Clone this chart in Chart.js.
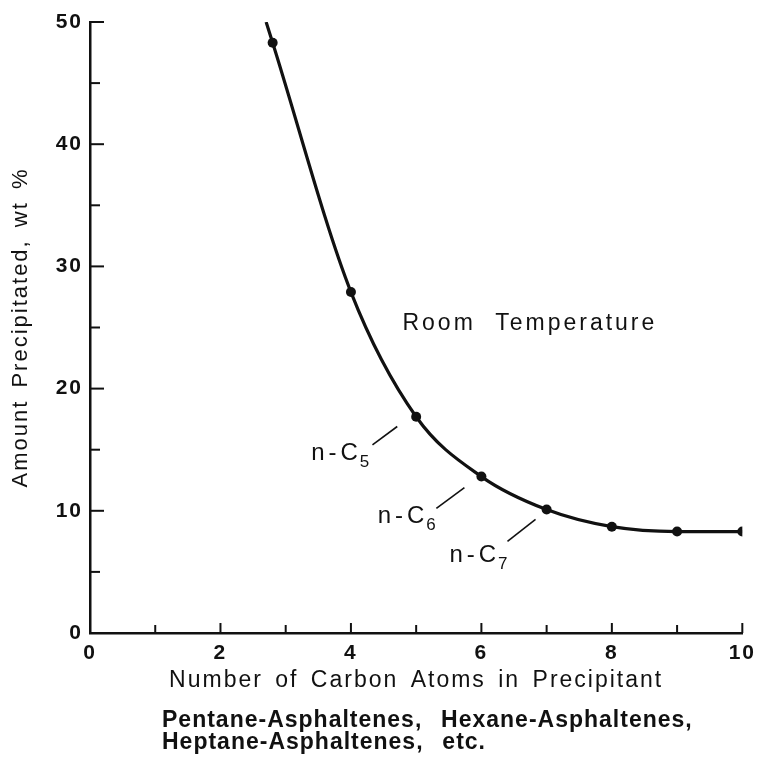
<!DOCTYPE html>
<html><head><meta charset="utf-8">
<script src="https://cdn.jsdelivr.net/npm/chart.js@4.4.1/dist/chart.umd.min.js"></script>
<style>html,body{margin:0;padding:0;background:#fff;} #wrap{width:762px;height:758px;position:relative}</style>
</head><body><div id="wrap"><canvas id="c" width="762" height="758"></canvas></div>
<script>
// ---- data ----
const carbonAtoms = [2.8, 4, 5, 6, 7, 8, 9, 10];
const amountPrecipitated = [48.3, 27.9, 17.7, 12.8, 10.1, 8.7, 8.3, 8.3];
const curveStartX = 2.7;   // where the fitted curve leaves the top of the frame
const curveStartY = 50;
const xTickValues = [0, 1, 2, 3, 4, 5, 6, 7, 8, 9, 10];
const yTickValues = [0, 5, 10, 15, 20, 25, 30, 35, 40, 45, 50];
const xTitle = 'Number of Carbon Atoms in Precipitant';
const yTitle = 'Amount Precipitated, wt %';
const noteText = 'Room Temperature';
const noteX = 4.79, noteY = 24.8;
const solventPrefix = ['n-C', 'n-C', 'n-C'];
const solventSub = ['5', '6', '7'];
const solventLabelX = [3.39, 4.41, 5.51];
const solventLabelY = [14.16, 9.0, 5.8];
const leaderFromX = [4.33, 5.31, 6.40];
const leaderFromY = [15.4, 10.2, 7.5];
const leaderToX = [4.71, 5.74, 6.83];
const leaderToY = [16.9, 11.9, 9.3];
const captionLines = ['Pentane-Asphaltenes,  Hexane-Asphaltenes,', 'Heptane-Asphaltenes,  etc.'];

const FONT = '"Liberation Sans", Arial, Helvetica, sans-serif';
const INK = '#111';

const points = [{x: curveStartX, y: curveStartY}].concat(
  carbonAtoms.map((x, i) => ({x: x, y: amountPrecipitated[i]})));

const textStyle = {
  id: 'textStyle',
  beforeDraw(chart) {
    chart.ctx.letterSpacing = '2px';
    chart.ctx.wordSpacing = '4px';
  }
};

const extras = {
  id: 'extras',
  afterDraw(chart) {
    const ctx = chart.ctx;
    const xs = chart.scales.x, ys = chart.scales.y;
    const ca = chart.chartArea;
    ctx.save();
    ctx.strokeStyle = INK;
    ctx.fillStyle = INK;
    // inward tick marks
    ctx.lineWidth = 2;
    xTickValues.forEach(v => {
      if (v === 0) return;
      const px = xs.getPixelForValue(v);
      ctx.beginPath();
      ctx.moveTo(px, ca.bottom);
      ctx.lineTo(px, ca.bottom - (v % 2 === 0 ? 10 : 8));
      ctx.stroke();
    });
    yTickValues.forEach(v => {
      if (v === 0) return;
      const py = ys.getPixelForValue(v);
      ctx.beginPath();
      ctx.moveTo(ca.left, py);
      ctx.lineTo(ca.left + (v % 10 === 0 ? 14 : 10), py);
      ctx.stroke();
    });
    // Room Temperature note
    ctx.letterSpacing = '3px';
    ctx.wordSpacing = '10px';
    ctx.font = '23px ' + FONT;
    ctx.textBaseline = 'alphabetic';
    ctx.textAlign = 'left';
    ctx.fillText(noteText, xs.getPixelForValue(noteX), ys.getPixelForValue(noteY));
    // solvent labels with leader lines
    ctx.lineWidth = 1.6;
    solventPrefix.forEach((p, i) => {
      const lx = xs.getPixelForValue(solventLabelX[i]);
      const ly = ys.getPixelForValue(solventLabelY[i]);
      ctx.letterSpacing = '4px';
      ctx.font = '24px ' + FONT;
      ctx.fillText(p, lx, ly);
      const w = ctx.measureText(p).width;
      ctx.letterSpacing = '0px';
      ctx.font = '17px ' + FONT;
      ctx.fillText(solventSub[i], lx + w - 2, ly + 7);
      ctx.beginPath();
      ctx.moveTo(xs.getPixelForValue(leaderFromX[i]), ys.getPixelForValue(leaderFromY[i]));
      ctx.lineTo(xs.getPixelForValue(leaderToX[i]), ys.getPixelForValue(leaderToY[i]));
      ctx.stroke();
    });
    // caption under the axis title
    ctx.letterSpacing = '1px';
    ctx.wordSpacing = '2px';
    ctx.font = 'bold 23px ' + FONT;
    ctx.fillText(captionLines[0], 162, 727);
    ctx.fillText(captionLines[1], 162, 749);
    ctx.restore();
  }
};

new Chart(document.getElementById('c'), {
  type: 'scatter',
  data: {
    datasets: [{
      data: points,
      showLine: true,
      cubicInterpolationMode: 'monotone',
      borderColor: INK,
      borderWidth: 3.2,
      pointBackgroundColor: INK,
      pointBorderWidth: 0,
      pointRadius: c => (c.dataIndex === 0 ? 0 : 5)
    }]
  },
  options: {
    responsive: false,
    animation: false,
    devicePixelRatio: 1,
    layout: {padding: {top: 22, right: 19, left: 0, bottom: 0}},
    plugins: {legend: {display: false}, tooltip: {enabled: false}},
    scales: {
      x: {
        type: 'linear', min: 0, max: 10,
        ticks: {stepSize: 2, padding: 8, color: INK, maxRotation: 0, autoSkip: false,
                font: {family: FONT, size: 21, weight: 'bold'}},
        grid: {display: false, drawTicks: false},
        border: {display: true, color: INK, width: 2.5},
        title: {display: true, text: xTitle, color: INK,
                font: {family: FONT, size: 23}, padding: {top: 0, bottom: 64}},
        afterFit: s => { s.height = 125; }
      },
      y: {
        type: 'linear', min: 0, max: 50,
        ticks: {stepSize: 10, padding: 7, color: INK, font: {family: FONT, size: 21, weight: 'bold'}},
        grid: {display: false, drawTicks: false},
        border: {display: true, color: INK, width: 2.5},
        title: {display: true, text: yTitle, color: INK,
                font: {family: FONT, size: 22}, padding: {top: 8, bottom: 0}},
        afterFit: s => { s.width = 90; }
      }
    }
  },
  plugins: [textStyle, extras]
});
</script>
</body></html>
